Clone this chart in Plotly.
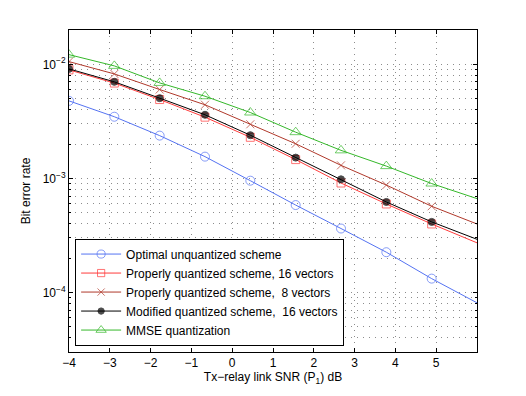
import plotly.graph_objects as go

# SNR points (dB), 10 evenly spaced from -4 to 6
snr_db = [-4.0, -2.889, -1.778, -0.667, 0.444, 1.556, 2.667, 3.778, 4.889, 6.0]

ber_optimal = [0.00478, 0.00347, 0.00237, 0.00155, 0.000954, 0.000583, 0.000363, 0.000225, 0.000132, 0.000081]
ber_proper16 = [0.00893, 0.00685, 0.00491, 0.00344, 0.00229, 0.00146, 0.00091, 0.000596, 0.000398, 0.000272]
ber_proper8 = [0.01056, 0.00824, 0.00601, 0.00442, 0.00298, 0.00201, 0.00130, 0.000873, 0.000569, 0.000398]
ber_modified16 = [0.00912, 0.00702, 0.00505, 0.00361, 0.00239, 0.00152, 0.00098, 0.000621, 0.000415, 0.000292]
ber_mmse = [0.01216, 0.00969, 0.00687, 0.00525, 0.00378, 0.00254, 0.00176, 0.00128, 0.00090, 0.000664]

x_ticks = [-4, -3, -2, -1, 0, 1, 2, 3, 4, 5]
y_ticks = [1e-4, 1e-3, 1e-2]
y_ticktext = ["10<sup>−4</sup>", "10<sup>−3</sup>", "10<sup>−2</sup>"]

series = [
    ("Optimal unquantized scheme", ber_optimal, "#5573f2", "circle-open", 9),
    ("Properly quantized scheme, 16 vectors", ber_proper16, "#ff3b3b", "square-open", 8),
    ("Properly quantized scheme,  8 vectors", ber_proper8, "#b0392b", "x-thin-open", 8),
    ("Modified quantized scheme,  16 vectors", ber_modified16, "#000000", "circle", 7),
    ("MMSE quantization", ber_mmse, "#35b82a", "triangle-up-open", 10),
]

fig = go.Figure()
for name, ys, color, symbol, size in series:
    # the last point sits on the right axis edge and carries no marker
    sizes = [size] * (len(snr_db) - 1) + [0]
    fig.add_trace(go.Scatter(
        x=snr_db, y=ys, name=name, mode="lines+markers",
        line=dict(color=color, width=1),
        marker=dict(symbol=symbol, size=sizes, color=color,
                    line=dict(color=color, width=1)),
    ))

grid_color = "#8c8c8c"
grid_dash = "1px,5px"
# page body adds an 8px offset, so margins are trimmed to keep the axes in place
fig.update_layout(
    width=526, height=396,
    margin=dict(l=61, r=57, t=22, b=52),
    paper_bgcolor="white", plot_bgcolor="white",
    font=dict(family="Liberation Sans, Arial, sans-serif", size=12, color="black"),
    showlegend=True,
    legend=dict(
        x=0.015, y=0.02, xanchor="left", yanchor="bottom",
        bgcolor="white", bordercolor="black", borderwidth=1,
        font=dict(size=12), itemwidth=40, tracegroupgap=0,
    ),
)
fig.update_xaxes(
    range=[-4, 6], tickvals=x_ticks,
    showline=True, linecolor="black", linewidth=1, mirror="ticks",
    ticks="inside", ticklen=4, tickcolor="black",
    showgrid=True, gridcolor=grid_color, griddash=grid_dash, gridwidth=1,
    zeroline=False,
    title=dict(text="Tx−relay link SNR (P<sub>1</sub>) dB", standoff=1, font=dict(size=12)),
)
fig.update_yaxes(
    type="log", range=[-4.523, -1.699],
    tickvals=y_ticks, ticktext=y_ticktext,
    showline=True, linecolor="black", linewidth=1, mirror="ticks",
    ticks="inside", ticklen=4, tickcolor="black",
    showgrid=True, gridcolor=grid_color, griddash=grid_dash, gridwidth=1,
    minor=dict(dtick="D1", ticks="inside", ticklen=2, tickcolor="black",
               showgrid=True, gridcolor=grid_color, griddash=grid_dash, gridwidth=1),
    zeroline=False,
    title=dict(text="Bit error rate", standoff=9, font=dict(size=12)),
)

fig.write_html("out.html")
